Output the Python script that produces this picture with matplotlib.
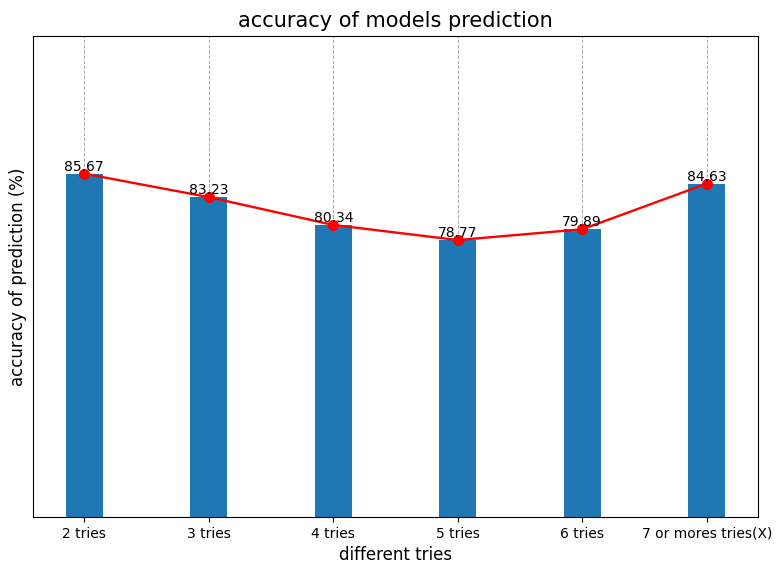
import matplotlib
matplotlib.use("Agg")
import matplotlib.pyplot as plt

# data
tries = ["2 tries", "3 tries", "4 tries", "5 tries", "6 tries", "7 or mores tries(X)"]
accuracy = [85.67, 83.23, 80.34, 78.77, 79.89, 84.63]

fig = plt.figure(figsize=(7.77, 5.68), dpi=100)
ax = fig.add_axes([0.042, 0.09, 0.934, 0.847])

x = list(range(len(tries)))
ax.bar(x, accuracy, width=0.3, color="#1f77b4", zorder=2)
ax.plot(x, accuracy, color="red", marker="o", markersize=7, linewidth=1.7, zorder=3)
for xi, v in zip(x, accuracy):
    ax.text(xi, v, f"{v}", ha="center", va="bottom", fontsize=10, zorder=4)

ax.set_xticks(x)
ax.set_xticklabels(tries, fontsize=10)
ax.set_yticks([])
ax.set_ylim(50, 100)
ax.grid(axis="x", linestyle="--", color="gray", linewidth=0.7, alpha=0.7, zorder=1)

ax.set_title("accuracy of models prediction", fontsize=15)
ax.set_xlabel("different tries", fontsize=12)
ax.set_ylabel("accuracy of prediction (%)", fontsize=12)

fig.savefig("out.png", dpi=100)
